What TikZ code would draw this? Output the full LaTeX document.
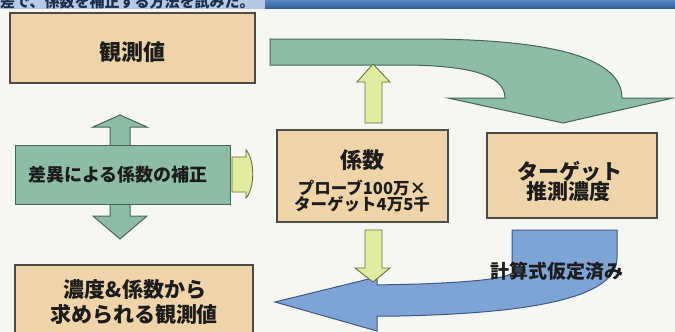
\documentclass[tikz,border=0pt]{standalone}
\usepackage{fontspec}
\setmainfont{Noto Sans CJK JP}
\definecolor{bg}{HTML}{F6F6F3}
\definecolor{tanf}{HTML}{EFD4AA}
\definecolor{boxline}{HTML}{4E4A44}
\definecolor{greenf}{HTML}{8EBDA6}
\definecolor{greenline}{HTML}{46645A}
\definecolor{yelf}{HTML}{E1EC9E}
\definecolor{yelline}{HTML}{66703F}
\definecolor{bluef}{HTML}{7EA3D6}
\definecolor{blueline}{HTML}{3C5A84}
\definecolor{txt}{HTML}{1C1C1C}
\definecolor{barTop}{HTML}{5A86C2}
\definecolor{barBot}{HTML}{2F5E9E}
\definecolor{stripL}{HTML}{B7C9E2}
\definecolor{navy}{HTML}{1D2D4E}
\begin{document}
\begin{tikzpicture}[x=1pt,y=-1pt,
  tanbox/.style={draw=boxline, line width=1.2pt, fill=tanf, inner sep=0pt},
  greenbox/.style={draw=greenline, line width=1pt, fill=greenf, inner sep=0pt},
  greenarrow/.style={draw=greenline, line width=1pt, fill=greenf},
  yelarrow/.style={draw=yelline, line width=0.9pt, fill=yelf},
  bluearrow/.style={draw=blueline, line width=1pt, fill=bluef},
  lbl/.style={text=txt, inner sep=0pt},
  fs/.style={font=\fontsize{#1}{#1}\selectfont\bfseries}
]
\fill[bg] (0,0) rectangle (675,332);
\useasboundingbox (0,0) rectangle (675,332);

% top strip
\fill[stripL] (0,0) rectangle (265,9);
\shade[top color=barTop, bottom color=barBot] (265,0) rectangle (675,8.5);
\node[lbl, text=navy, fs=15, anchor=base west] (head) at (0,8) {差で、係数を補正する方法を試みた。};

% boxes
\node[tanbox, minimum width=245pt, minimum height=70pt] (obs) at (132.5,48) {};
\node[lbl, fs=22] (obsT) at (obs.center) [yshift=-4pt] {観測値};

% green curved arrow from obs to target
\draw[greenarrow] (270,39) -- (420,39)
  .. controls (560,39) and (622,60) .. (622,98)
  -- (673,98) -- (563,123) -- (448,98) -- (505,98)
  .. controls (505,75) and (470,65) .. (400,65)
  -- (270,65) -- cycle;

% coefficient box
\node[tanbox, minimum width=171pt, minimum height=92pt] (coef) at (362.5,176) {};
\node[lbl, fs=22] (coefT) at (362,160) {係数};
\node[lbl, fs=16.5] (coefA) at (362,188) {プローブ100万×};
\node[lbl, fs=16.5] (coefB) at (362,204.5) {ターゲット4万5千};

% yellow up arrow coef -> bar
\draw[yelarrow] (365,123) -- (365,82) -- (357,82) -- (373,64) -- (390,82) -- (382,82) -- (382,123) -- cycle;

% target box
\node[tanbox, minimum width=170pt, minimum height=85pt] (tgt) at (572,175.5) {};
\node[lbl, fs=21] (tgtA) at (570,171) {ターゲット};
\node[lbl, fs=21] (tgtB) at (568,192) {推測濃度};

% green double arrow + correction box
\draw[greenarrow] (110,205) -- (110,127) -- (93,127) -- (120,115) -- (147,127) -- (130,127)
  -- (130,216) -- (147,216) -- (120,239) -- (93,216) -- (110,216) -- cycle;
\node[greenbox, minimum width=215pt, minimum height=59pt] (corr) at (122.5,174.5) {};
\node[lbl, fs=18] (corrT) at (118,175) {差異による係数の補正};

% small yellow arrow corr -> coef
\draw[yelarrow] (232,157) -- (246,157) -- (246,150)
  .. controls (255,160) and (255,188) .. (246,198)
  -- (246,192) -- (232,192) -- cycle;

% concentration box
\node[tanbox, minimum width=238pt, minimum height=82pt] (conc) at (134,306) {};
\node[lbl, fs=21] (concA) at (135,290) {濃度\&係数から};
\node[lbl, fs=21] (concB) at (134,314) {求められる観測値};

% blue U-turn arrow target -> conc
\draw[bluearrow] (512,230) -- (617,230) -- (617,258)
  .. controls (617,296) and (540,313) .. (400,316)
  -- (377,316) -- (377,331) -- (275,302) -- (377,277) -- (377,285)
  -- (420,284) .. controls (470,282) and (505,279) .. (512,273) -- cycle;

% yellow down arrow coef -> blue arrow
\draw[yelarrow] (365,230) -- (382,230) -- (382,268) -- (390,268) -- (373,282) -- (355,268) -- (365,268) -- cycle;

\node[lbl, fs=19] (calc) at (557,271) {計算式仮定済み};
\end{tikzpicture}
\end{document}
